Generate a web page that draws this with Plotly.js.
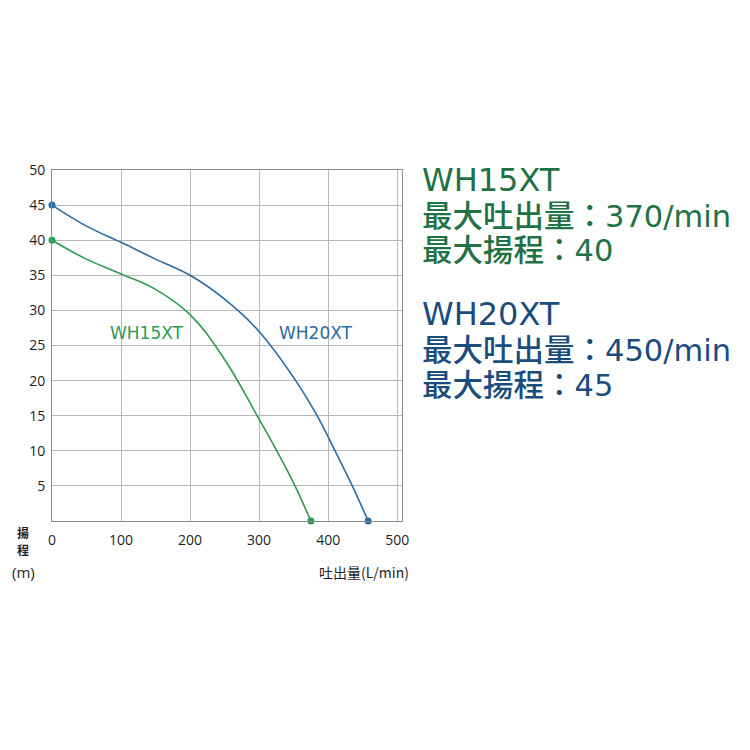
<!DOCTYPE html>
<html>
<head>
<meta charset="utf-8">
<script src="https://cdn.plot.ly/plotly-3.0.1.min.js"></script>
<style>
  html, body { margin: 0; padding: 0; background: #fff; }
  #plot { width: 750px; height: 750px; }
</style>
</head>
<body>
<div id="plot"></div>
<script>
// pump curves (flow L/min, head m)
var flow_wh15 = [0, 50, 100, 150, 200, 250, 300, 330, 352, 375];
var head_wh15 = [40, 37.3, 35.2, 33.0, 29.4, 23.0, 14.5, 9.2, 5, 0];
var flow_wh20 = [0, 50, 100, 150, 200, 250, 300, 353, 384, 410, 435, 458];
var head_wh20 = [45, 42.0, 39.7, 37.3, 35.0, 31.6, 27.0, 20, 15, 10, 5, 0];

var x_ticks = [0, 100, 200, 300, 400, 500];
var y_ticks = [5, 10, 15, 20, 25, 30, 35, 40, 45, 50];

var green = '#2e9a55';
var blue = '#2a6ca4';
var tick_font = {family: 'Open Sans, Noto Sans', size: 14, color: '#1e1e1e'};
var cjk = 'Noto Sans CJK JP';
var spec_font = 'DejaVu Sans, Noto Sans CJK JP';

function ends(a) { return [a[0], a[a.length - 1]]; }

var wh15_trace = {
   x: flow_wh15, y: head_wh15,
   mode: 'lines', line: {shape: 'spline', smoothing: 1.1, width: 1.6, color: green},
   hoverinfo: 'x+y', showlegend: false
};
var wh20_trace = {
   x: flow_wh20, y: head_wh20,
   mode: 'lines', line: {shape: 'spline', smoothing: 1.1, width: 1.6, color: blue},
   hoverinfo: 'x+y', showlegend: false
};
var wh15_ends = {
   x: ends(flow_wh15), y: ends(head_wh15), mode: 'markers',
   marker: {size: 7, color: green}, cliponaxis: false, showlegend: false
};
var wh20_ends = {
   x: ends(flow_wh20), y: ends(head_wh20), mode: 'markers',
   marker: {size: 7, color: blue}, cliponaxis: false, showlegend: false
};

// right side spec text
var spec_lines = [
   {text: 'WH15XT', y: 180, color: '#1f7244', size: 32},
   {text: '最大吐出量：370/min', y: 216, color: '#1f7244', size: 30.5},
   {text: '最大揚程：40', y: 250, color: '#1f7244', size: 30.5},
   {text: 'WH20XT', y: 314, color: '#1b4c7e', size: 32},
   {text: '最大吐出量：450/min', y: 350, color: '#1b4c7e', size: 30.5},
   {text: '最大揚程：45', y: 385, color: '#1b4c7e', size: 30.5}
];

function px_x(p) { return (p - 52) / 350; }
function px_y(p) { return (521 - p) / 351; }

var annotations = [
   {xref: 'x', yref: 'y', x: 138, y: 26.8, text: 'WH15XT', showarrow: false,
    font: {family: 'DejaVu Sans', size: 17, color: green}},
   {xref: 'x', yref: 'y', x: 382, y: 26.8, text: 'WH20XT', showarrow: false,
    font: {family: 'DejaVu Sans', size: 17, color: blue}},
   {xref: 'paper', yref: 'paper', x: px_x(23), y: px_y(532), text: '揚',
    xanchor: 'center', yanchor: 'middle', showarrow: false,
    font: {family: cjk, size: 12, color: '#1e1e1e', weight: 700}},
   {xref: 'paper', yref: 'paper', x: px_x(23), y: px_y(549), text: '程',
    xanchor: 'center', yanchor: 'middle', showarrow: false,
    font: {family: cjk, size: 12, color: '#1e1e1e', weight: 700}},
   {xref: 'paper', yref: 'paper', x: px_x(23), y: px_y(572), text: '(m)',
    xanchor: 'center', yanchor: 'middle', showarrow: false,
    font: {family: 'Open Sans', size: 15, color: '#1e1e1e'}},
   {xref: 'paper', yref: 'paper', x: px_x(411), y: px_y(572), text: '吐出量(L/min)',
    xanchor: 'right', yanchor: 'middle', showarrow: false,
    font: {family: cjk, size: 14, color: '#1e1e1e'}}
];
spec_lines.forEach(function (s) {
   annotations.push({
      xref: 'paper', yref: 'paper', x: px_x(420), y: px_y(s.y),
      xanchor: 'left', yanchor: 'middle', text: s.text, showarrow: false,
      font: {family: spec_font, size: s.size, color: s.color, weight: 500}
   });
});

var layout = {
   width: 750, height: 750,
   margin: {l: 52, r: 348, t: 170, b: 229},
   paper_bgcolor: '#fff', plot_bgcolor: '#fff',
   showlegend: false,
   xaxis: {
      range: [0, 507], tickvals: x_ticks, ticktext: x_ticks.map(String),
      showgrid: true, gridcolor: '#b8b8b8', gridwidth: 1,
      zeroline: false, showline: true, linecolor: '#8a8a8a', mirror: true,
      ticks: '', tickfont: tick_font, ticklabelstandoff: 6
   },
   yaxis: {
      range: [0, 50], tickvals: y_ticks, ticktext: y_ticks.map(String),
      showgrid: true, gridcolor: '#b8b8b8', gridwidth: 1,
      zeroline: false, showline: true, linecolor: '#8a8a8a', mirror: true,
      ticks: '', tickfont: tick_font, ticklabelstandoff: 3
   },
   annotations: annotations
};

Plotly.newPlot('plot', [wh15_trace, wh20_trace, wh15_ends, wh20_ends], layout, {displayModeBar: false, staticPlot: true});
</script>
</body>
</html>
